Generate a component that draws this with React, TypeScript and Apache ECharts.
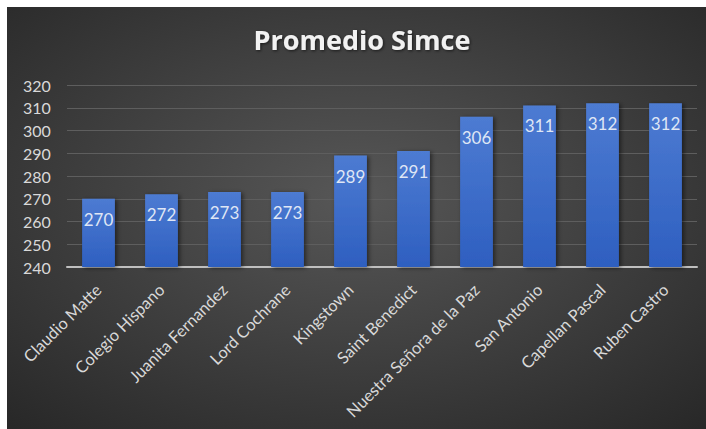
import React, { useEffect, useRef } from "react";
import * as echarts from "echarts";

const categories = [
  "Claudio Matte",
  "Colegio Hispano",
  "Juanita Fernandez",
  "Lord Cochrane",
  "Kingstown",
  "Saint Benedict",
  "Nuestra Señora de la Paz",
  "San Antonio",
  "Capellan Pascal",
  "Ruben Castro",
];
const values = [270, 272, 273, 273, 289, 291, 306, 311, 312, 312];
const titleText = "Promedio Simce";

export default function App() {
  const ref = useRef<HTMLDivElement>(null);
  useEffect(() => {
    document.body.style.margin = "0";
    const chart = echarts.init(ref.current!, null, { renderer: "svg" });
    const font = "Lato, 'Open Sans', sans-serif";
    chart.setOption({
      animation: false,
      backgroundColor: "#ffffff",
      graphic: [
        {
          type: "rect",
          z: -10,
          silent: true,
          shape: { x: 7, y: 7, width: 699, height: 422 },
          style: {
            fill: new echarts.graphic.RadialGradient(0.5, 0.45, 0.75, [
              { offset: 0, color: "#575757" },
              { offset: 1, color: "#272727" },
            ]),
          },
        },
      ],
      title: {
        text: titleText,
        left: 357,
        top: 21,
        textAlign: "center",
        textStyle: {
          color: "#f2f2f2",
          fontSize: 27,
          fontWeight: "bold",
          fontFamily: "'Open Sans', sans-serif",
          textShadowColor: "rgba(0,0,0,0.6)",
          textShadowBlur: 3,
          textShadowOffsetX: 1,
          textShadowOffsetY: 1,
        },
      },
      grid: { left: 67, right: 9, top: 85, bottom: 162 },
      xAxis: {
        type: "category",
        data: categories,
        axisTick: { show: false },
        axisLine: { lineStyle: { color: "#bfbfbf", width: 2 } },
        axisLabel: {
          rotate: 45,
          color: "#d9d9d9",
          fontSize: 16.5,
          fontFamily: font,
          interval: 0,
          margin: 20,
        },
      },
      yAxis: {
        type: "value",
        min: 240,
        max: 320,
        interval: 10,
        axisLine: { show: false },
        axisTick: { show: false },
        splitLine: { lineStyle: { color: "#5e5e5e", width: 1 } },
        axisLabel: {
          color: "#d9d9d9",
          fontSize: 16,
          fontFamily: font,
          margin: 44,
          align: "left",
        },
      },
      series: [
        {
          type: "bar",
          data: values,
          barWidth: "52%",
          itemStyle: {
            color: new echarts.graphic.LinearGradient(0, 0, 0, 1, [
              { offset: 0, color: "#4d7bd2" },
              { offset: 1, color: "#2e5fc0" },
            ]),
            shadowColor: "rgba(0,0,0,0.5)",
            shadowBlur: 4,
            shadowOffsetX: 2,
            shadowOffsetY: 1,
          },
          label: {
            show: true,
            position: "insideTop",
            distance: 12,
            color: "#dfe6f5",
            fontSize: 17,
            fontFamily: font,
          },
        },
      ],
    });
    return () => chart.dispose();
  }, []);
  return <div ref={ref} style={{ width: 706, height: 429 }} />;
}
